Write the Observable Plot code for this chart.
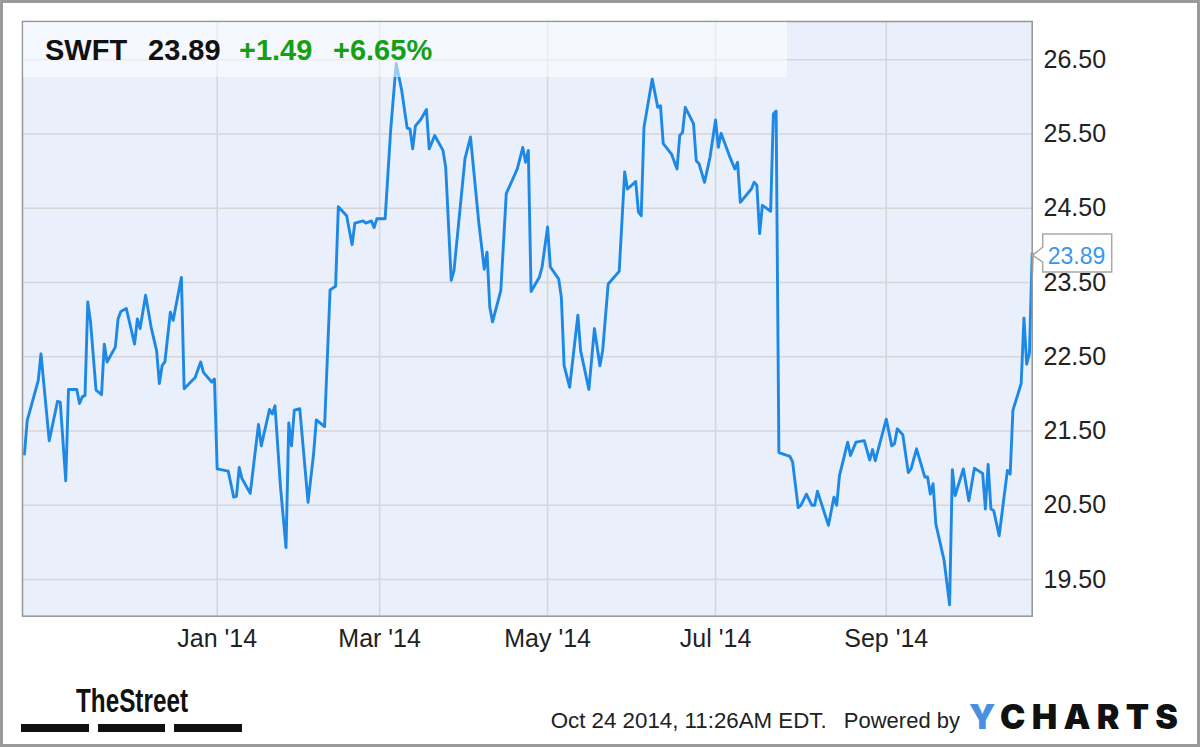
<!DOCTYPE html>
<html>
<head>
<meta charset="utf-8">
<script src="https://cdn.jsdelivr.net/npm/d3@7"></script>
<script src="https://cdn.jsdelivr.net/npm/@observablehq/plot@0.6"></script>
<style>
  html, body { margin: 0; padding: 0; background: #fff; }
  #wrap { position: relative; width: 1200px; height: 747px; overflow: hidden; }
  #wrap > svg.overlay { position: absolute; left: 0; top: 0; pointer-events: none; }
  #chart { position: absolute; left: 0; top: 0; }
</style>
</head>
<body>
<div id="wrap"><div id="chart"></div></div>
<script>
// ---- data ----
const ticker = "SWFT";
const lastPriceText = "23.89";
const changeText = "+1.49";
const changePctText = "+6.65%";
const stampText = "Oct 24 2014, 11:26AM EDT.";
const poweredText = "Powered by";

const dates = [
 "2013-10-23","2013-10-24","2013-10-28","2013-10-29","2013-11-01","2013-11-04","2013-11-05","2013-11-07","2013-11-08","2013-11-11",
 "2013-11-12","2013-11-13","2013-11-14","2013-11-15","2013-11-16","2013-11-18","2013-11-20","2013-11-21","2013-11-22","2013-11-25",
 "2013-11-26","2013-11-27","2013-11-29","2013-12-02","2013-12-03","2013-12-04","2013-12-06","2013-12-08","2013-12-10","2013-12-11",
 "2013-12-12","2013-12-13","2013-12-15","2013-12-16","2013-12-19","2013-12-20","2013-12-24","2013-12-26","2013-12-27","2013-12-30",
 "2013-12-31","2014-01-01","2014-01-05","2014-01-07","2014-01-08","2014-01-09","2014-01-10","2014-01-13","2014-01-15","2014-01-16",
 "2014-01-17","2014-01-20","2014-01-21","2014-01-22","2014-01-24","2014-01-26","2014-01-27","2014-01-28","2014-01-29","2014-01-31",
 "2014-02-03","2014-02-05","2014-02-06","2014-02-09","2014-02-11","2014-02-13","2014-02-14","2014-02-17","2014-02-19","2014-02-20",
 "2014-02-23","2014-02-24","2014-02-26","2014-02-27","2014-02-28","2014-03-03","2014-03-05","2014-03-07","2014-03-09","2014-03-11",
 "2014-03-12","2014-03-13","2014-03-14","2014-03-16","2014-03-18","2014-03-19","2014-03-21","2014-03-24","2014-03-25","2014-03-27",
 "2014-03-28","2014-04-01","2014-04-03","2014-04-06","2014-04-08","2014-04-09","2014-04-10","2014-04-11","2014-04-14","2014-04-16",
 "2014-04-20","2014-04-22","2014-04-23","2014-04-24","2014-04-25","2014-04-28","2014-04-29","2014-05-01","2014-05-02","2014-05-05",
 "2014-05-06","2014-05-07","2014-05-09","2014-05-12","2014-05-13","2014-05-16","2014-05-18","2014-05-20","2014-05-21","2014-05-23",
 "2014-05-27","2014-05-29","2014-05-30","2014-06-02","2014-06-03","2014-06-04","2014-06-05","2014-06-08","2014-06-10","2014-06-11",
 "2014-06-12","2014-06-15","2014-06-17","2014-06-18","2014-06-19","2014-06-20","2014-06-23","2014-06-24","2014-06-25","2014-06-27",
 "2014-06-29","2014-07-01","2014-07-02","2014-07-03","2014-07-06","2014-07-08","2014-07-09","2014-07-10","2014-07-14","2014-07-15",
 "2014-07-16","2014-07-17","2014-07-18","2014-07-21","2014-07-22","2014-07-23","2014-07-24","2014-07-28","2014-07-29","2014-07-31",
 "2014-08-01","2014-08-03","2014-08-05","2014-08-06","2014-08-07","2014-08-11","2014-08-13","2014-08-14","2014-08-15","2014-08-18",
 "2014-08-19","2014-08-21","2014-08-24","2014-08-26","2014-08-27","2014-08-28","2014-09-01","2014-09-03","2014-09-04","2014-09-05",
 "2014-09-07","2014-09-09","2014-09-10","2014-09-12","2014-09-15","2014-09-16","2014-09-17","2014-09-18","2014-09-19","2014-09-22",
 "2014-09-24","2014-09-25","2014-09-26","2014-09-29","2014-10-01","2014-10-03","2014-10-06","2014-10-07","2014-10-08","2014-10-09",
 "2014-10-10","2014-10-12","2014-10-15","2014-10-16","2014-10-17","2014-10-20","2014-10-21","2014-10-22","2014-10-23","2014-10-24"
];
const prices = [
 21.19,21.64,22.18,22.54,21.37,21.90,21.89,20.83,22.06,22.06,
 21.87,21.96,21.98,23.24,22.97,22.05,21.99,22.67,22.43,22.63,
 23.01,23.11,23.15,22.67,23.01,22.88,23.33,22.90,22.58,22.14,
 22.38,22.43,23.10,22.99,23.57,22.07,22.22,22.43,22.29,22.16,
 22.20,20.99,20.96,20.61,20.62,21.01,20.86,20.66,21.28,21.59,
 21.30,21.79,21.73,21.84,20.74,19.93,21.61,21.30,21.78,21.80,
 20.54,21.19,21.65,21.56,23.40,23.45,24.52,24.40,24.01,24.30,
 24.33,24.30,24.33,24.24,24.36,24.36,25.55,26.45,26.09,25.58,
 25.57,25.30,25.61,25.70,25.83,25.30,25.48,25.28,25.05,23.53,
 23.66,25.17,25.46,24.31,23.68,23.91,23.17,22.97,23.39,24.70,
 25.03,25.32,25.12,25.28,23.38,23.57,23.71,24.25,23.71,23.55,
 23.30,22.38,22.09,23.06,22.58,22.06,22.88,22.38,22.58,23.48,
 23.65,24.99,24.76,24.86,24.45,24.40,25.59,26.24,25.86,25.88,
 25.37,25.23,25.03,25.48,25.52,25.86,25.64,25.14,25.10,24.85,
 25.19,25.69,25.32,25.51,25.21,25.03,25.12,24.58,24.76,24.85,
 24.81,24.16,24.54,24.46,25.77,25.81,21.21,21.16,21.08,20.47,
 20.50,20.65,20.50,20.50,20.69,20.23,20.61,20.50,20.90,21.35,
 21.17,21.35,21.37,21.11,21.25,21.10,21.66,21.30,21.33,21.53,
 21.45,20.94,20.99,21.26,20.88,20.88,20.65,20.79,20.25,19.76,
 19.16,20.98,20.63,20.99,20.56,21.00,20.93,20.45,21.05,20.45,
 20.43,20.09,20.97,20.92,21.78,22.14,23.02,22.40,22.55,23.89
];
const xTickDates = ["2014-01-01","2014-03-01","2014-05-01","2014-07-01","2014-09-01"];
const yTickValues = [19.5, 20.5, 21.5, 22.5, 23.5, 24.5, 25.5, 26.5];

// ---- build ----
const series = dates.map((d, i) => ({date: new Date(d + "T00:00:00Z"), price: prices[i]}));
const xTicks = xTickDates.map(d => new Date(d + "T00:00:00Z"));
const FONT = '"Liberation Sans", Arial, Helvetica, sans-serif';
const LINE = "#1e88e5";
const GRID = "#d6d6d8";

const plot = Plot.plot({
  width: 1200,
  height: 747,
  marginLeft: 22,
  marginRight: 168.3,
  marginTop: 21,
  marginBottom: 131.3,
  style: {fontFamily: FONT, fontSize: "25px", color: "#222", background: "transparent"},
  x: {type: "utc", domain: [new Date(Date.UTC(2013, 9, 22, 7)), new Date(Date.UTC(2014, 9, 24))], label: null},
  y: {domain: [19.006, 27.016], label: null},
  marks: [
    Plot.frame({fill: "#e9f0fc", stroke: null}),
    Plot.gridX(xTicks, {stroke: GRID, strokeOpacity: 1, strokeWidth: 1.6}),
    Plot.gridY(yTickValues, {stroke: GRID, strokeOpacity: 1, strokeWidth: 1.6}),
    Plot.line(series, {x: "date", y: "price", stroke: LINE, strokeWidth: 2.9, strokeLinejoin: "round"}),
    Plot.frame({stroke: "#9a9a9a", strokeWidth: 1.6}),
    Plot.axisX(xTicks, {anchor: "bottom", tickSize: 0, tickPadding: 13.5, tickFormat: d3.utcFormat("%b '%y"), fontSize: 25, fill: "#222"}),
    Plot.axisY(yTickValues, {anchor: "right", tickSize: 0, tickPadding: 11.3, tickFormat: d3.format(".2f"), fontSize: 25, fill: "#222"})
  ]
});
document.getElementById("chart").appendChild(plot);

// ---- overlay: header band, header text, last-value flag, footer ----
const xs = plot.scale("x"), ys = plot.scale("y");
const last = series[series.length - 1];
const LX = xs.apply(last.date), LY = ys.apply(last.price);
const fx0 = xs.apply(xs.domain[0]);

const ov = d3.select("#wrap").append("svg").attr("class", "overlay")
  .attr("width", 1200).attr("height", 747);

// translucent header band over the plot
ov.append("rect").attr("x", fx0 + 1).attr("y", 22).attr("width", 787 - fx0 - 1).attr("height", 55)
  .attr("fill", "#ffffff").attr("fill-opacity", 0.55);

const hdr = ov.append("g").attr("font-family", FONT).attr("font-weight", "bold").attr("font-size", 29);
hdr.append("text").attr("x", 45).attr("y", 60).attr("fill", "#111").text(ticker);
hdr.append("text").attr("x", 148).attr("y", 60).attr("fill", "#111").text(lastPriceText);
hdr.append("text").attr("x", 239).attr("y", 60).attr("fill", "#14a014").text(changeText);
hdr.append("text").attr("x", 333).attr("y", 60).attr("fill", "#14a014").text(changePctText);

// last value flag
const bx = LX + 11, by0 = LY - 19, by1 = LY + 19;
ov.append("path")
  .attr("d", `M${bx},${by0} H${bx + 69} V${by1} H${bx} V${LY + 9} L${LX + 1},${LY + 2} L${bx},${LY - 6} Z`)
  .attr("fill", "#fff").attr("stroke", "#a8a8a8").attr("stroke-width", 1.5);
ov.append("text").attr("x", bx + 5).attr("y", LY + 11).attr("font-family", FONT).attr("font-size", 23)
  .attr("fill", "#3a97ea").text(last.price.toFixed(2));

// footer
const ft = ov.append("g").attr("font-family", FONT).attr("font-size", 22).attr("fill", "#222");
ft.append("text").attr("x", 550.7).attr("y", 728).attr("textLength", 276).attr("lengthAdjust", "spacingAndGlyphs").text(stampText);
ft.append("text").attr("x", 960).attr("y", 728).attr("text-anchor", "end").text(poweredText);

const yc = ov.append("text").attr("x", 969).attr("y", 729).attr("font-family", "Inter, Lato, sans-serif")
  .attr("font-weight", 900).attr("font-size", 34).attr("textLength", 209).attr("lengthAdjust", "spacing");
yc.append("tspan").attr("fill", "#4a90e2").text("Y");
yc.append("tspan").attr("fill", "#111").text("CHARTS");

ov.append("text").attr("x", 76).attr("y", 712).attr("font-family", '"Liberation Sans Narrow", "Liberation Sans", Arial, sans-serif')
  .attr("font-weight", "bold").attr("font-size", 33).attr("textLength", 112).attr("lengthAdjust", "spacingAndGlyphs")
  .attr("fill", "#111").text("TheStreet");
[[21, 89], [98, 165], [174, 242]].forEach(([a, b]) =>
  ov.append("rect").attr("x", a).attr("y", 724).attr("width", b - a).attr("height", 8).attr("fill", "#111"));

// outer border
ov.append("rect").attr("x", 1.5).attr("y", 1.5).attr("width", 1197).attr("height", 744)
  .attr("fill", "none").attr("stroke", "#9a9a9a").attr("stroke-width", 3);
</script>
</body>
</html>
